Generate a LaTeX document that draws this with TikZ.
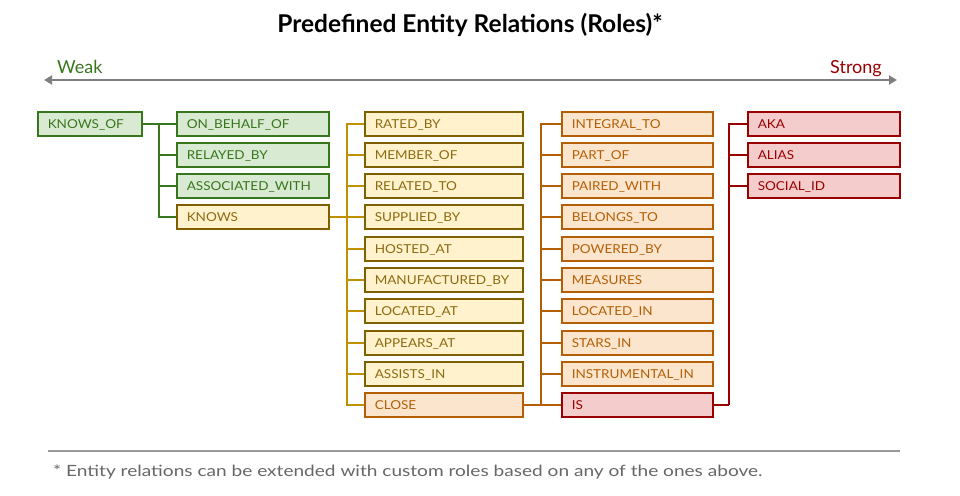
\documentclass[tikz,border=0pt]{standalone}
\usepackage{fontspec}
\setmainfont{Lato}
\newfontfamily\boxfont{Lato}[FakeStretch=1.1]
\newfontfamily\footfont{Lato}[FakeStretch=1.23]
\usetikzlibrary{arrows.meta}
\definecolor{gfill}{HTML}{D9EAD3}\definecolor{gdraw}{HTML}{38761D}
\definecolor{yfill}{HTML}{FFF2CC}\definecolor{ydraw}{HTML}{7F6000}\definecolor{ytext}{HTML}{8C6A10}\definecolor{yline}{HTML}{BF9000}
\definecolor{ofill}{HTML}{FCE5CD}\definecolor{odraw}{HTML}{B45F06}
\definecolor{rfill}{HTML}{F4CCCC}\definecolor{rdraw}{HTML}{990000}
\definecolor{axis}{HTML}{7F7F7F}\definecolor{foot}{HTML}{666666}
\begin{document}
\begin{tikzpicture}[x=1pt,y=-1pt,
  box/.style={draw, line width=1.5pt, anchor=west, inner xsep=10pt, inner ysep=0pt,
    minimum height=24pt, text width=#1-20pt, align=left, text height=10.5pt, text depth=0.7pt,
    font=\boxfont\fontsize{12.3}{14}\selectfont},
  gbox/.style={box=#1, fill=gfill, draw=gdraw, text=gdraw},
  ybox/.style={box=#1, fill=yfill, draw=ydraw, text=ytext},
  obox/.style={box=#1, fill=ofill, draw=odraw, text=odraw},
  rbox/.style={box=#1, fill=rfill, draw=rdraw, text=rdraw},
  conn/.style={line width=1.5pt}
]
\useasboundingbox (0,0) rectangle (960,495);
\node[font=\bfseries\fontsize{24.5}{28}\selectfont, anchor=base] (title) at (470,32.5) {Predefined Entity Relations (Roles)*};
\coordinate (al) at (44,80);
\coordinate (ar) at (897,80);
\draw[axis, line width=2pt, {Triangle[length=8pt,width=9pt]}-{Triangle[length=8pt,width=9pt]}] (al) -- (ar);
\node[text=gdraw, font=\fontsize{18}{21}\selectfont, anchor=base west, inner sep=0pt] (weak) at (57,74) {Weak};
\node[text=rdraw, font=\fontsize{18}{21}\selectfont, anchor=base east, inner sep=0pt] (strong) at (882,74) {Strong};

% column 1
\node[gbox=104pt] (ko) at (37,124) {KNOWS\_OF};
% column 2
\node[gbox=152pt] (obo) at (176,124) {ON\_BEHALF\_OF};
\node[gbox=152pt] (rb) at (176,155) {RELAYED\_BY};
\node[gbox=152pt] (aw) at (176,186) {ASSOCIATED\_WITH};
\node[ybox=152pt] (kn) at (176,217) {KNOWS};
% column 3
\foreach \t/\y [count=\i from 0] in {RATED\_BY/124,MEMBER\_OF/155,RELATED\_TO/186,SUPPLIED\_BY/217,HOSTED\_AT/249,MANUFACTURED\_BY/280,LOCATED\_AT/311,APPEARS\_AT/343,ASSISTS\_IN/374}
  \node[ybox=158pt] (c3\i) at (364,\y) {\t};
\node[obox=158pt] (close) at (364,405) {CLOSE};
% column 4
\foreach \t/\y [count=\i from 0] in {INTEGRAL\_TO/124,PART\_OF/155,PAIRED\_WITH/186,BELONGS\_TO/217,POWERED\_BY/249,MEASURES/280,LOCATED\_IN/311,STARS\_IN/343,INSTRUMENTAL\_IN/374}
  \node[obox=151pt] (c4\i) at (561,\y) {\t};
\node[rbox=151pt] (is) at (561,405) {IS};
% column 5
\node[rbox=152pt] (aka) at (747,124) {AKA};
\node[rbox=152pt] (alias) at (747,155) {ALIAS};
\node[rbox=152pt] (sid) at (747,186) {SOCIAL\_ID};

% connectors
\coordinate (j1) at (159,124);
\draw[conn, gdraw] (ko.east) -- (j1) |- (obo.west);
\draw[conn, gdraw] (j1) |- (rb.west);
\draw[conn, gdraw] (j1) |- (aw.west);
\draw[conn, gdraw] (j1) |- (kn.west);
\coordinate (j2) at (347,217);
\draw[conn, yline] (kn.east) -- (j2);
\foreach \i in {0,...,8} \draw[conn, yline] (j2) |- (c3\i.west);
\draw[conn, yline] (j2) |- (close.west);
\coordinate (j3) at (541,405);
\draw[conn, odraw] (close.east) -- (j3);
\foreach \i in {0,...,8} \draw[conn, odraw] (j3) |- (c4\i.west);
\draw[conn, odraw] (j3) -- (is.west);
\coordinate (j4) at (729,405);
\draw[conn, rdraw] (is.east) -- (j4);
\draw[conn, rdraw] (j4) |- (aka.west);
\draw[conn, rdraw] (j4) |- (alias.west);
\draw[conn, rdraw] (j4) |- (sid.west);

% footer
\coordinate (fl) at (48,451);
\coordinate (fr) at (900,451);
\draw[axis!80, line width=2pt] (fl) -- (fr);
\node[text=foot, font=\footfont\fontsize{15.5}{18}\selectfont, anchor=base west, inner sep=0pt] (note) at (53,476) {* Entity relations can be extended with custom roles based on any of the ones above.};
\end{tikzpicture}
\end{document}
